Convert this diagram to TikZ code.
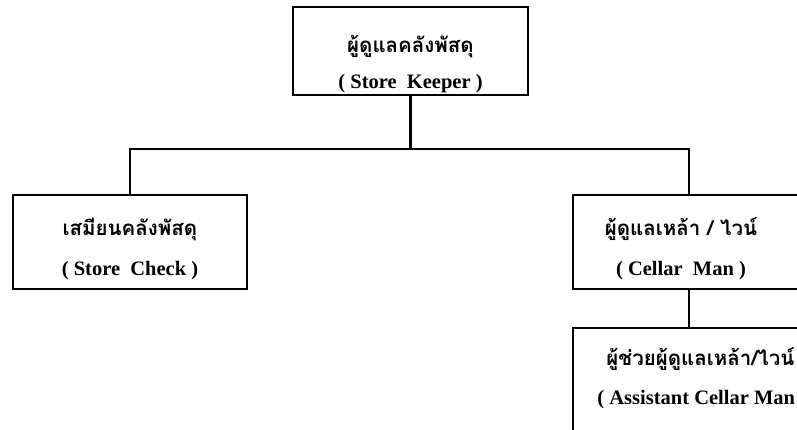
\documentclass[tikz,border=0pt]{standalone}
\usepackage{fontspec}
\setmainfont{Liberation Serif}
\newfontfamily\thaifont[Script=Thai]{Loma}
\usetikzlibrary{positioning,calc}
\tikzset{
    staff box/.style={draw, line width=1.5pt, inner sep=0pt},
    thai text/.style={font=\thaifont\bfseries\fontsize{20.5}{24}\selectfont},
    eng text/.style={font=\bfseries\fontsize{20.5}{24}\selectfont},
    link/.style={line width=2.2pt}
}

\begin{document}
\begin{tikzpicture}[x=1pt, y=-1pt]
    \useasboundingbox (0,0) rectangle (797,430);
    \clip (0,0) rectangle (797,430);
    \node[staff box, minimum width=235pt, minimum height=88pt] (keeper) at (410.5,51) {};
    \node[staff box, minimum width=234pt, minimum height=94pt] (check) at (130,242) {};
    \node[staff box, minimum width=232pt, minimum height=94pt] (cellar) at (689,242) {};
    \node[staff box, minimum width=257pt, minimum height=140pt] (assist) at (701.5,398) {};
    % labels
    \node[thai text] at ($(keeper.north)+(0,40)$) {ผู้ดูแลคลังพัสดุ};
    \node[eng text] at ($(keeper.north)+(0,77)$) {( Store\ \ Keeper )};
    \node[thai text] at ($(check.north)+(0,35)$) {เสมียนคลังพัสดุ};
    \node[eng text] at ($(check.north)+(0,76)$) {( Store\ \ Check )};
    \node[thai text] at ($(cellar.north)+(-8,35)$) {ผู้ดูแลเหล้า / ไวน์};
    \node[eng text] at ($(cellar.north)+(-8,76)$) {( Cellar\ \ Man )};
    \node[thai text, anchor=west, inner sep=0pt] at ($(assist.north west)+(34,32)$) {ผู้ช่วยผู้ดูแลเหล้า/ไวน์};
    \node[eng text, anchor=west, inner sep=0pt] at ($(assist.north west)+(25,72)$) {( Assistant Cellar Man};
    % connectors
    \coordinate (fork) at ($(keeper.south)+(0,53)$);
    \draw[link] (keeper.south) -- (fork);
    \draw[link] (check.north) |- (fork) -| (cellar.north);
    \draw[link] (cellar.south) -- (cellar.south |- assist.north);
\end{tikzpicture}
\end{document}
